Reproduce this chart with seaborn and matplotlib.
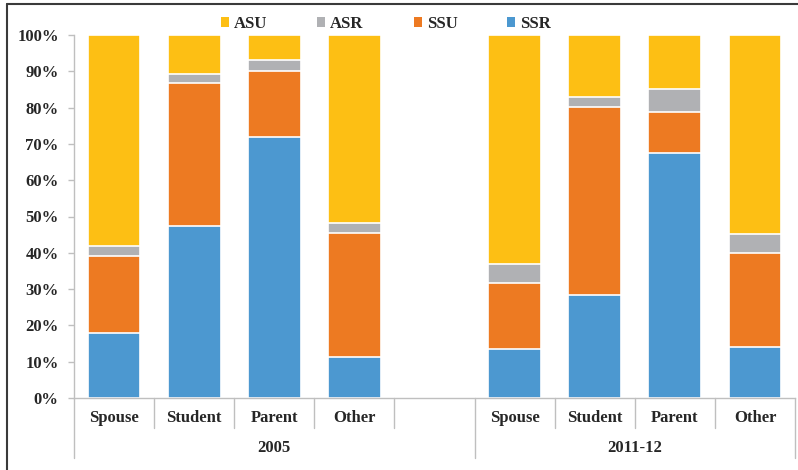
import matplotlib
matplotlib.use("Agg")
import matplotlib.pyplot as plt
from matplotlib.lines import Line2D
from matplotlib.patches import Patch
import matplotlib.transforms as mtransforms
import seaborn as sns
import pandas as pd
import numpy as np

# Share of each household type (percent), by period and relationship
periods = ["2005", "2005", "2005", "2005", "2011-12", "2011-12", "2011-12", "2011-12"]
relations = ["Spouse", "Student", "Parent", "Other", "Spouse", "Student", "Parent", "Other"]
ssr = [17.8, 47.4, 72.0, 11.3, 13.5, 28.4, 67.4, 14.0]
ssu = [21.4, 39.3, 18.2, 34.1, 18.1, 51.7, 11.5, 26.0]
asr = [2.8, 2.6, 2.9, 2.7, 5.3, 2.9, 6.1, 5.2]
asu = [58.0, 10.7, 6.9, 51.9, 63.1, 17.0, 15.0, 54.8]

series_names = ["ASU", "ASR", "SSU", "SSR"]
series_colors = {"ASU": "#FDBF14", "ASR": "#B0B1B4", "SSU": "#ED7A22", "SSR": "#4C98D0"}

df = pd.DataFrame({"period": periods, "relation": relations,
                   "SSR": ssr, "SSU": ssu, "ASR": asr, "ASU": asu})
df["slot"] = df["period"] + " " + df["relation"]
# cumulative tops of each stacked segment (as fractions)
df["top_SSR"] = df["SSR"] / 100
df["top_SSU"] = (df["SSR"] + df["SSU"]) / 100
df["top_ASR"] = (df["SSR"] + df["SSU"] + df["ASR"]) / 100
df["top_ASU"] = (df["SSR"] + df["SSU"] + df["ASR"] + df["ASU"]) / 100

# slot order, with an empty slot separating the two periods
order = list(df["slot"][:4]) + ["gap"] + list(df["slot"][4:])

sns.set_theme(style="white")
plt.rcParams["font.family"] = ["Liberation Serif", "DejaVu Serif"]
plt.rcParams["font.weight"] = "bold"

FS = 12
TXT = "#262626"

W, H = 798, 470
fig = plt.figure(figsize=(W / 100, H / 100), dpi=100)
fig.patch.set_facecolor("white")
ax = fig.add_axes([74 / W, 1 - 398 / H, (795 - 74) / W, (398 - 35) / H])

# draw from the tallest cumulative segment down so lower segments sit on top
for name in ["ASU", "ASR", "SSU", "SSR"]:
    sns.barplot(data=df, x="slot", y=f"top_{name}", order=order,
                color=series_colors[name], saturation=1, width=0.66,
                edgecolor="white", linewidth=1.2, ax=ax, errorbar=None)

ax.set_xlim(-0.5, len(order) - 0.5)
ax.set_ylim(0, 1)
ax.set_xlabel("")
ax.set_ylabel("")
ax.set_yticks(np.arange(0, 1.01, 0.1))
ax.set_yticklabels([f"{int(round(v * 100))}%" for v in np.arange(0, 1.01, 0.1)],
                   fontsize=FS, fontweight="bold", color=TXT)
ax.tick_params(axis="y", left=True, length=4, width=1, color="#BFBFBF", pad=7)
ax.set_xticks([])

for s in ["top", "right"]:
    ax.spines[s].set_visible(False)
for s in ["left", "bottom"]:
    ax.spines[s].set_color("#BFBFBF")
    ax.spines[s].set_linewidth(1)

# category labels and period labels under the axis
trans = mtransforms.blended_transform_factory(ax.transData, ax.transAxes)
ax_h = 398 - 35
for i, slot in enumerate(order):
    if slot == "gap":
        continue
    lab = slot.split(" ", 1)[1]
    ax.text(i, -20 / ax_h, lab, transform=trans, ha="center", va="center",
            fontsize=FS, fontweight="bold", color=TXT)

ax.text(2.0, -50 / ax_h, "2005", transform=trans, ha="center", va="center",
        fontsize=FS, fontweight="bold", color=TXT)
ax.text(6.5, -50 / ax_h, "2011-12", transform=trans, ha="center", va="center",
        fontsize=FS, fontweight="bold", color=TXT)

# separators between categories (short) and between periods (long)
long_edges = {-0.5, 4.5, 8.5}
for e in np.arange(-0.5, len(order), 1.0):
    depth = 60 if e in long_edges else 30
    ax.add_line(Line2D([e, e], [0, -depth / ax_h], transform=trans,
                       color="#BFBFBF", lw=1, clip_on=False))

# legend across the top
handles = [Patch(facecolor=series_colors[n], edgecolor="none") for n in series_names]
leg = fig.legend(handles, series_names, loc="center", bbox_to_anchor=(386 / W, 1 - 24 / H),
                 ncol=4, frameon=False, handlelength=0.48, handleheight=0.48,
                 handletextpad=0.3, columnspacing=3.0,
                 prop={"family": "Liberation Serif", "weight": "bold", "size": FS})
for t in leg.get_texts():
    t.set_color(TXT)

# outer frame (left and top edges)
fig.add_artist(Line2D([7 / W, 7 / W], [0, 1 - 4 / H], transform=fig.transFigure,
                      color="#3A3A3A", lw=1.5))
fig.add_artist(Line2D([7 / W, 1], [1 - 4 / H, 1 - 4 / H], transform=fig.transFigure,
                      color="#3A3A3A", lw=1.5))

fig.savefig("out.png", dpi=100, facecolor="white")
